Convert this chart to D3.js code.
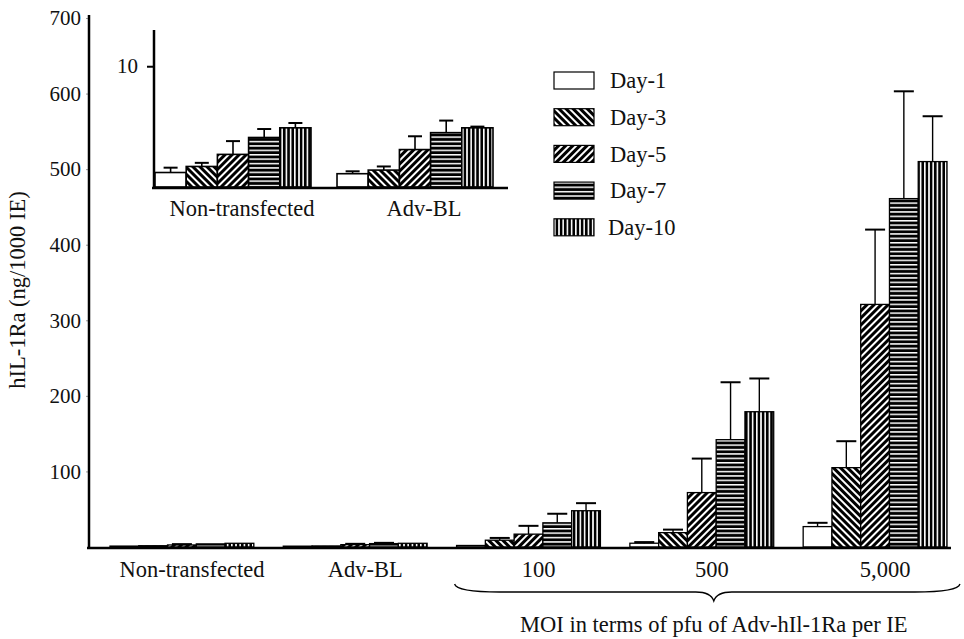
<!DOCTYPE html>
<html>
<head>
<meta charset="utf-8">
<script src="https://cdn.jsdelivr.net/npm/d3@7"></script>
<style>
    body { margin: 0; background: #fff; }
    svg text { font-family: "Liberation Serif", "DejaVu Serif", "Times New Roman", serif !important; fill: #111; }
</style>
</head>
<body>
<svg id="chart" width="964" height="639"></svg>
<script>
(function (d3) {
    "use strict";

    /***** Data *****/
    const days = ["Day-1", "Day-3", "Day-5", "Day-7", "Day-10"];
    const groups = ["Non-transfected", "Adv-BL", "100", "500", "5,000"];
    const groupLabels = ["Non-transfected", "Adv-BL", "100", "500", "5,000"];

    // mean per group, one entry per day (ng/1000 IE)
    const nonTransfected = [1.2, 1.7, 2.7, 4.1, 4.9];
    const advBL = [1.1, 1.4, 3.1, 4.5, 4.9];
    const moi100 = [2, 9, 17, 32, 48];
    const moi500 = [5, 19, 72, 142, 179];
    const moi5000 = [27, 105, 321, 461, 510];

    // upper end of error bars
    const errNonTransfected = [1.6, 2.0, 3.8, 4.8, 5.3];
    const errAdvBL = [1.3, 1.7, 4.2, 5.5, 5.0];
    const err100 = [2, 12, 28, 44, 58];
    const err500 = [6.5, 23, 117, 218, 223];
    const err5000 = [32, 140, 420, 603, 570];

    const mainTicks = [100, 200, 300, 400, 500, 600, 700];
    const insetTicks = [10];

    const means = [nonTransfected, advBL, moi100, moi500, moi5000];
    const errs = [errNonTransfected, errAdvBL, err100, err500, err5000];

    const rows = [];
    groups.forEach((g, gi) => days.forEach((d, di) => {
        rows.push({group: g, day: d, value: means[gi][di], err: errs[gi][di]});
    }));

    const svg = d3.select("#chart");
    const serif = "'Liberation Serif', 'DejaVu Serif', 'Times New Roman', serif";
    const tickFont = 21;
    const labelFont = 22.5;

    /***** Patterns *****/
    const defs = svg.append("defs");
    function stripes(id, w, h, rot, vertical, white) {
        const p = defs.append("pattern")
            .attr("id", id)
            .attr("patternUnits", "userSpaceOnUse")
            .attr("width", w).attr("height", h);
        if (rot) p.attr("patternTransform", "rotate(" + rot + ")");
        p.append("rect").attr("width", w).attr("height", h).attr("fill", "#000");
        if (vertical) {
            p.append("rect").attr("x", 0).attr("y", 0).attr("width", white).attr("height", h).attr("fill", "#fff");
        } else {
            p.append("rect").attr("x", 0).attr("y", 0).attr("width", w).attr("height", white).attr("fill", "#fff");
        }
    }
    stripes("p3", 5, 5, -45, true, 2);
    stripes("p5", 5, 5, 45, true, 2);
    stripes("p7", 4, 4.4, 0, false, 1.5);
    stripes("p10", 4.2, 4, 0, true, 1.6);
    const fills = {"Day-1": "#fff", "Day-3": "url(#p3)", "Day-5": "url(#p5)", "Day-7": "url(#p7)", "Day-10": "url(#p10)"};

    /***** Main chart *****/
    const baseY = 547;
    const y = d3.scaleLinear().domain([0, 700]).range([baseY, 18]);
    const x = d3.scaleBand().domain(groups).range([110, 947]).paddingInner(0.17);
    const xDay = d3.scaleBand().domain(days).range([0, x.bandwidth()]);

    const main = svg.append("g");

    // y axis
    const yAxis = main.append("g")
        .attr("transform", "translate(89,0)")
        .call(d3.axisLeft(y).tickValues(mainTicks).tickSize(3).tickSizeOuter(0).tickPadding(5));
    yAxis.select(".domain").remove();
    yAxis.selectAll(".tick line").attr("stroke", "#999");
    yAxis.selectAll(".tick text").attr("font-size", tickFont).style("font-family", serif);
    main.append("line")
        .attr("x1", 89).attr("x2", 89)
        .attr("y1", y(700) - 3).attr("y2", baseY + 1)
        .attr("stroke", "#000").attr("stroke-width", 2.5);

    // bars
    const bars = main.append("g").selectAll("g.bar").data(rows).join("g");
    bars.append("rect")
        .attr("x", d => x(d.group) + xDay(d.day))
        .attr("y", d => y(d.value))
        .attr("width", xDay.bandwidth())
        .attr("height", d => baseY - y(d.value))
        .attr("fill", d => fills[d.day])
        .attr("stroke", "#000").attr("stroke-width", 1.3);
    bars.filter(d => d.err - d.value > 0.8).append("line")
        .attr("x1", d => x(d.group) + xDay(d.day) + xDay.bandwidth() / 2)
        .attr("x2", d => x(d.group) + xDay(d.day) + xDay.bandwidth() / 2)
        .attr("y1", d => y(d.value)).attr("y2", d => y(d.err))
        .attr("stroke", "#000").attr("stroke-width", 1.4);
    bars.filter(d => d.err - d.value > 0.8).append("line")
        .attr("x1", d => x(d.group) + xDay(d.day) + xDay.bandwidth() / 2 - 10)
        .attr("x2", d => x(d.group) + xDay(d.day) + xDay.bandwidth() / 2 + 10)
        .attr("y1", d => y(d.err)).attr("y2", d => y(d.err))
        .attr("stroke", "#000").attr("stroke-width", 2);

    // x axis
    main.append("line")
        .attr("x1", 87).attr("x2", 951)
        .attr("y1", baseY + 1).attr("y2", baseY + 1)
        .attr("stroke", "#000").attr("stroke-width", 2.5);
    const xAxis = main.append("g")
        .attr("transform", "translate(0," + (baseY + 1) + ")")
        .call(d3.axisBottom(x).tickSize(0).tickPadding(13).tickFormat((d, i) => groupLabels[i]));
    xAxis.select(".domain").remove();
    xAxis.selectAll(".tick text").attr("font-size", labelFont).style("font-family", serif).attr("dx", 10);

    // brace under MOI groups
    const bx0 = x("100") - 2, bx1 = x("5,000") + x.bandwidth() + 13;
    const bm = x("500") + x.bandwidth() / 2 + 12;
    const by = 584, bh = 8;
    const brace = d3.path();
    brace.moveTo(bx0, by);
    brace.quadraticCurveTo(bx0 + 2, by + bh, bx0 + 45, by + bh);
    brace.lineTo(bm - 18, by + bh);
    brace.quadraticCurveTo(bm - 3, by + bh, bm, by + bh + 9);
    brace.quadraticCurveTo(bm + 3, by + bh, bm + 18, by + bh);
    brace.lineTo(bx1 - 45, by + bh);
    brace.quadraticCurveTo(bx1 - 2, by + bh, bx1, by);
    main.append("path").attr("d", brace.toString())
        .attr("fill", "none").attr("stroke", "#000").attr("stroke-width", 1.3);

    main.append("text")
        .attr("x", bm).attr("y", 632)
        .attr("text-anchor", "middle").attr("font-size", labelFont)
        .style("font-family", serif)
        .text("MOI in terms of pfu of Adv-hIl-1Ra per IE");

    main.append("text")
        .attr("transform", "translate(25," + (y(340)) + ") rotate(-90)")
        .attr("text-anchor", "middle").attr("font-size", labelFont)
        .style("font-family", serif)
        .text("hIL-1Ra (ng/1000 IE)");

    /***** Inset *****/
    const inBase = 187;
    const yIn = d3.scaleLinear().domain([0, 13]).range([inBase, 30]);
    const insetGroups = groups.slice(0, 2);
    const xIn = d3.scaleBand().domain(insetGroups).range([155, 493]).paddingInner(0.143);
    const xInDay = d3.scaleBand().domain(days).range([0, xIn.bandwidth()]);
    const inset = svg.append("g");

    const yInAxis = inset.append("g")
        .attr("transform", "translate(154,0)")
        .call(d3.axisLeft(yIn).tickValues(insetTicks).tickSize(7).tickSizeOuter(0).tickPadding(9));
    yInAxis.select(".domain").remove();
    yInAxis.selectAll(".tick line").attr("stroke", "#000").attr("stroke-width", 2);
    yInAxis.selectAll(".tick text").attr("font-size", tickFont).style("font-family", serif);
    inset.append("line")
        .attr("x1", 154).attr("x2", 154)
        .attr("y1", yIn(13)).attr("y2", inBase + 1)
        .attr("stroke", "#000").attr("stroke-width", 2.5);

    const inRows = rows.filter(d => insetGroups.includes(d.group));
    const inBars = inset.append("g").selectAll("g").data(inRows).join("g");
    inBars.append("rect")
        .attr("x", d => xIn(d.group) + xInDay(d.day))
        .attr("y", d => yIn(d.value))
        .attr("width", xInDay.bandwidth())
        .attr("height", d => inBase - yIn(d.value))
        .attr("fill", d => fills[d.day])
        .attr("stroke", "#000").attr("stroke-width", 1.6);
    inBars.append("line")
        .attr("x1", d => xIn(d.group) + xInDay(d.day) + xInDay.bandwidth() / 2)
        .attr("x2", d => xIn(d.group) + xInDay(d.day) + xInDay.bandwidth() / 2)
        .attr("y1", d => yIn(d.value)).attr("y2", d => yIn(d.err))
        .attr("stroke", "#000").attr("stroke-width", 1.6);
    inBars.append("line")
        .attr("x1", d => xIn(d.group) + xInDay(d.day) + xInDay.bandwidth() / 2 - 7)
        .attr("x2", d => xIn(d.group) + xInDay(d.day) + xInDay.bandwidth() / 2 + 7)
        .attr("y1", d => yIn(d.err)).attr("y2", d => yIn(d.err))
        .attr("stroke", "#000").attr("stroke-width", 2);

    inset.append("line")
        .attr("x1", 152).attr("x2", 508)
        .attr("y1", inBase + 1).attr("y2", inBase + 1)
        .attr("stroke", "#000").attr("stroke-width", 2.5);
    const xInAxis = inset.append("g")
        .attr("transform", "translate(0," + (inBase + 1) + ")")
        .call(d3.axisBottom(xIn).tickSize(0).tickPadding(12));
    xInAxis.select(".domain").remove();
    xInAxis.selectAll(".tick text").attr("font-size", labelFont).style("font-family", serif).attr("dx", 9);

    /***** Legend *****/
    const legend = svg.append("g").attr("transform", "translate(554,72)");
    const item = legend.selectAll("g").data(days).join("g")
        .attr("transform", (d, i) => "translate(0," + i * 36.7 + ")");
    item.append("rect")
        .attr("width", 40).attr("height", 17)
        .attr("fill", d => fills[d])
        .attr("stroke", "#000").attr("stroke-width", 1.2);
    item.append("text")
        .attr("x", (d, i) => i === 4 ? 54 : 56).attr("y", 8.5)
        .attr("dy", "0.35em")
        .attr("font-size", labelFont)
        .style("font-family", serif)
        .text(d => d);

})(d3);
</script>
</body>
</html>
